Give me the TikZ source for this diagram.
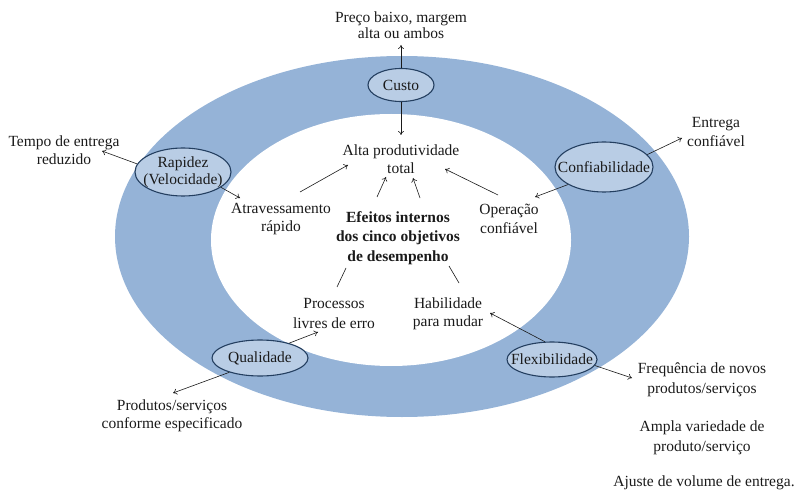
\documentclass[tikz,border=0pt]{standalone}
\usepackage{fontspec}
\setmainfont{Liberation Serif}
\usetikzlibrary{shapes.geometric,arrows.meta}

\definecolor{bandblue}{HTML}{95B3D7}
\definecolor{objfill}{HTML}{B9CDE5}
\definecolor{objline}{HTML}{243F60}
\definecolor{ink}{HTML}{1A1A1A}

\tikzset{
  x=1pt, y=-1pt,
  every node/.style={text=ink},
  txt/.style={align=center, inner sep=1pt, font=\fontsize{15.5}{18.5}\selectfont},
  objective/.style={ellipse, draw=objline, line width=1.1pt, fill=objfill, inner sep=0pt},
  objtext/.style={align=center, inner sep=0pt, font=\fontsize{15.5}{17}\selectfont},
  conn/.style={draw=ink, line width=0.6pt, -{To[length=4pt,width=6pt]}},
  plain/.style={draw=ink, line width=0.6pt},
}

\begin{document}
\begin{tikzpicture}
\useasboundingbox (0,0) rectangle (797,494);

% ring of the five objectives
\fill[bandblue] (402,236.5) ellipse [x radius=287, y radius=180.5];
\fill[white] (391,240) ellipse [x radius=180, y radius=126];

% performance objectives
\node[objective, minimum width=66pt, minimum height=33pt,
      label={[objtext]center:Custo}] (custo) at (401,85) {};
\node[objective, minimum width=96pt, minimum height=48pt,
      label={[objtext]center:Rapidez\\(Velocidade)}] (rap) at (183,172) {};
\node[objective, minimum width=98pt, minimum height=50pt,
      label={[objtext]center:Confiabilidade}] (conf) at (604,167) {};
\node[objective, minimum width=96pt, minimum height=36pt,
      label={[objtext]center:Qualidade}] (qual) at (260,358) {};
\node[objective, minimum width=90pt, minimum height=35pt,
      label={[objtext]center:Flexibilidade}] (flex) at (552,359.5) {};

% external effects
\node[txt, font=\fontsize{15.5}{16}\selectfont] (preco) at (401,25) {Preço baixo, margem\\alta ou ambos};
\node[txt] (tempo) at (64,150) {Tempo de entrega\\reduzido};
\node[txt] (entrega) at (716,132) {Entrega\\confiável};
\node[txt] (prod) at (172,416) {Produtos/serviços\\conforme especificado};
\node[txt, font=\fontsize{15.5}{20}\selectfont] (freq) at (702,380) {Frequência de novos\\produtos/serviços};
\node[txt, font=\fontsize{15.5}{20}\selectfont] (ampla) at (702,438) {Ampla variedade de\\produto/serviço};
\node[txt] (ajuste) at (704,483) {Ajuste de volume de entrega.};

% internal effects
\node[txt] (alta) at (401,159) {Alta produtividade\\total};
\node[txt] (atrav) at (281,219) {Atravessamento\\rápido};
\node[txt] (oper) at (509,219) {Operação\\confiável};
\node[txt, font=\fontsize{15.5}{20}\selectfont] (proc) at (334,313) {Processos\\livres de erro};
\node[txt] (hab) at (448,314) {Habilidade\\para mudar};
\node[txt, font=\bfseries\fontsize{15.5}{19.5}\selectfont] (efeitos) at (398,238)
  {Efeitos internos\\dos cinco objetivos\\de desempenho};

% cost
\draw[conn] (custo.north) -- ([shift={(0,20)}]preco.center);
\draw[conn] (custo.south) -- ([shift={(0,-24)}]alta.center);

% speed
\draw[conn] (rap.170) -- ([shift={(38,1)}]tempo.center);
\draw[conn] (rap.-22) -- ([shift={(-41,-21)}]atrav.center);
\draw[conn] ([shift={(19,-27)}]atrav.center) -- ([shift={(-53,6)}]alta.center);

% dependability
\draw[conn] (conf.16) -- ([shift={(-34,6)}]entrega.center);
\draw[conn] (conf.-154) -- ([shift={(26,-22)}]oper.center);
\draw[conn] ([shift={(-11,-24)}]oper.center) -- ([shift={(44,10)}]alta.center);

% central box to overall productivity
\draw[conn] ([shift={(-21,-41)}]efeitos.center) -- ([shift={(-15,18)}]alta.center);
\draw[conn] ([shift={(22,-40)}]efeitos.center) -- ([shift={(12,19)}]alta.center);
\draw[plain] ([shift={(-52,30)}]efeitos.center) -- ([shift={(3,-26)}]proc.center);
\draw[plain] ([shift={(51,28)}]efeitos.center) -- ([shift={(11,-31)}]hab.center);

% quality
\draw[conn] (qual.27) -- ([shift={(-16,19)}]proc.center);
\draw[conn] (qual.205) -- ([shift={(1,-23)}]prod.center);

% flexibility
\draw[conn] (flex.112) -- ([shift={(42,-1)}]hab.center);
\draw[conn] (flex.-8) -- ([shift={(-70,-2)}]freq.center);
\end{tikzpicture}
\end{document}
